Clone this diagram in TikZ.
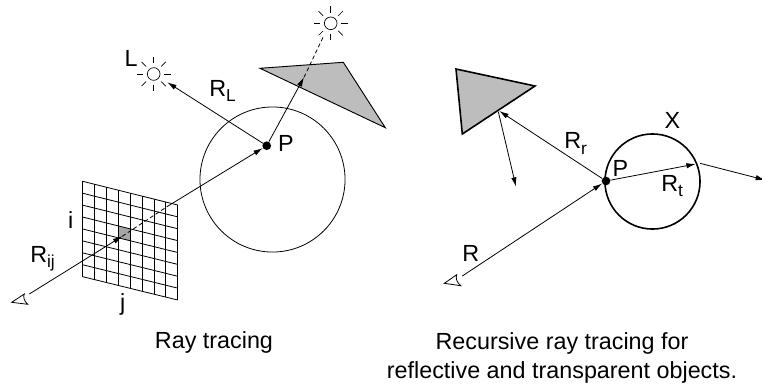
\documentclass[tikz,border=0pt]{standalone}
\usepackage{fontspec}
\setmainfont{Liberation Sans}
\usetikzlibrary{arrows.meta,calc}
\tikzset{
  ray/.style={line width=0.6pt,-{Latex[length=7pt,width=4pt]}},
  plain/.style={line width=0.6pt},
  dashray/.style={line width=0.6pt,dash pattern=on 3pt off 2pt},
  dotnode/.style={circle,fill=black,inner sep=0pt,minimum size=6.5pt},
  lab/.style={inner sep=0pt,font=\fontsize{17.5}{20}\selectfont},
  captxt/.style={inner sep=0pt,font=\fontsize{17.5}{22}\selectfont,align=center},
  obj/.style={fill=black!26,draw=black,line join=miter},
  sunrays/.style={line width=0.5pt}
}
\newcommand{\sunat}[2]{%
  \node[circle,draw,line width=0.5pt,minimum size=9.5pt,inner sep=0pt] (#2) at (#1) {};
  \foreach \a in {0,45,...,315}{\draw[sunrays] ($(#1)+(\a:8pt)$) -- ($(#1)+(\a:12.8pt)$);}
}
\newcommand{\subt}[1]{\raisebox{-4pt}{\fontsize{13}{13}\selectfont #1}}
\begin{document}
\begin{tikzpicture}[x=0.75pt,y=-0.75pt]
\useasboundingbox (0,0) rectangle (762,386);
% left: grid
\coordinate (TL) at (82.7,181.3); \coordinate (TR) at (177.7,205);
\coordinate (BL) at (82.7,276.7); \coordinate (BR) at (177.7,300);
\coordinate (c1a) at ($(TL)!3/8!(TR)$); \coordinate (c1b) at ($(BL)!3/8!(BR)$);
\coordinate (c2a) at ($(TL)!4/8!(TR)$); \coordinate (c2b) at ($(BL)!4/8!(BR)$);
\fill[black!35] ($(c1a)!3/8!(c1b)$) -- ($(c2a)!3/8!(c2b)$) -- ($(c2a)!4/8!(c2b)$) -- ($(c1a)!4/8!(c1b)$) -- cycle;
\foreach \k in {0,...,8}{
  \draw[plain] ($(TL)!\k/8!(BL)$) -- ($(TR)!\k/8!(BR)$);
  \draw[plain] ($(TL)!\k/8!(TR)$) -- ($(BL)!\k/8!(BR)$);
}
% left: sphere and obstacle
\node[circle,draw,line width=0.6pt,minimum size=108.8pt,inner sep=0pt] (sphereA) at (272.5,179.5) {};
\draw[obj,line width=0.7pt] (260,68.3) -- (343.3,62.3) -- (385.3,127.7) -- cycle;
\sunat{153.7,74}{sunL}
\sunat{330.7,23.3}{sunT}
\node[dotnode] (PA) at (266.7,145.7) {};
% eye
\coordinate (eyeA) at (29.3,294);
\coordinate (hitA) at (122.2,236.3);
\coordinate (exitA) at (168,206);
\draw[plain] (24.3,294) .. controls (23,297) and (24,301) .. (27.7,304.3) -- (11.7,302.3) -- cycle;
\draw[ray] (eyeA) -- (hitA);
\draw[dashray] (hitA) -- (exitA);
\draw[ray] (exitA) -- (PA);
\coordinate (tipL) at (167.3,82.3);
\draw[ray] (PA) -- (tipL);
\coordinate (tipT) at (304,77.3);
\draw[ray] (PA) -- (tipT);
\coordinate (endT) at (323.3,36.7);
\draw[dashray] (tipT) -- (endT);
\node[lab] (lL) at (131,58) {L};
\node[lab,anchor=west] (lRL) at (209,91) {R\subt{L}};
\node[lab] (lPA) at (286,143) {P};
\node[lab,anchor=west] (lRij) at (30,259) {R\subt{ij}};
\node[lab] (li) at (70.7,220) {i};
\node[lab] (lj) at (122.7,304) {j};
% right
\draw[obj,line width=1.2pt] (456,69) -- (535,86) -- (462.3,134) -- cycle;
\node[circle,draw,line width=1.2pt,minimum size=71.3pt,inner sep=0pt] (sphereB) at (652.5,181.5) {};
\node[dotnode] (PB) at (606,181) {};
\draw[plain] (456.7,274.7) .. controls (455.5,278) and (456.5,282) .. (460.7,285.7) -- (444.3,283.3) -- cycle;
\coordinate (eyeB) at (462.3,276);
\draw[ray] (eyeB) -- (PB);
\coordinate (hitB) at (499.3,111);
\draw[ray] (PB) -- (hitB);
\coordinate (reflB) at (516,186.7);
\draw[ray] (498.3,111.7) -- (reflB);
\coordinate (rtB) at (695.7,164);
\draw[ray] (PB) -- (rtB);
\coordinate (outS) at (700,163.3);
\coordinate (outE) at (765,180);
\draw[ray] (outS) -- (outE);
\node[lab] (lX) at (672.3,120.7) {X};
\node[lab] (lPB) at (620.3,168.3) {P};
\node[lab,anchor=west] (lRr) at (564,143.5) {R\subt{r}};
\node[lab,anchor=west] (lRt) at (661,186) {R\subt{t}};
\node[lab] (lR) at (470.7,253.3) {R};
% captions
\node[captxt] (c1) at (214,342) {Ray tracing};
\node[captxt] (c2) at (562,358) {Recursive ray tracing for\\reflective and transparent objects.};
\end{tikzpicture}
\end{document}
